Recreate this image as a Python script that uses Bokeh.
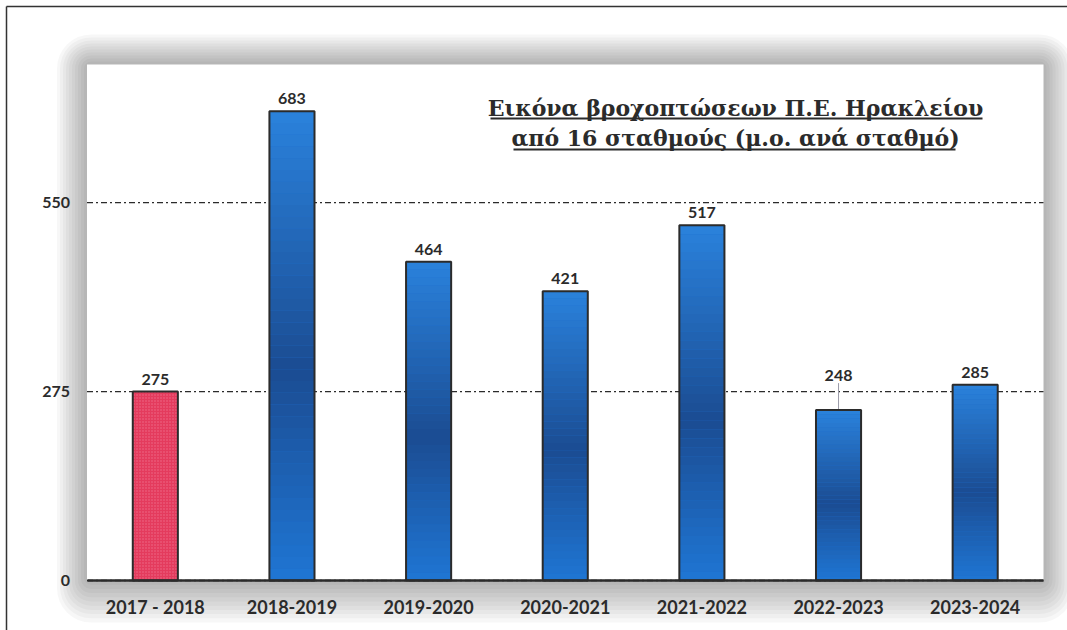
from bokeh.plotting import figure
from bokeh.models import FixedTicker, BoxAnnotation, Label
from bokeh.embed import file_html
from bokeh.resources import INLINE
from bokeh.core.properties import value

# ---------------- data ----------------
seasons = ["2017 - 2018", "2018-2019", "2019-2020", "2020-2021",
           "2021-2022", "2022-2023", "2023-2024"]
rainfall = [275, 683, 464, 421, 517, 248, 285]
y_ticks = [0, 275, 550]
title_lines = ["Εικόνα βροχοπτώσεων Π.Ε. Ηρακλείου",
               "από 16 σταθμούς (μ.ο. ανά σταθμό)"]

# ---------------- layout constants (canvas pixels) ----------------
W, H = 1067, 630
PL, PR, PT, PB = 86.5, 1043.0, 64.0, 580.0   # visible plot area
Y_TOP = 751.0                                 # data value at top of plot area
BAR_W = 0.33
TEXT = "#2b2b2b"
FONT = "Lato"
LABEL_GAP = 7          # px between bar top and its value label
LIFTED_LABEL = 5       # index of the label moved up (with a leader line)
LIFT_PX = 22

n = len(seasons)
cw = (PR - PL) / n            # px per category
s = (PB - PT) / Y_TOP          # px per data unit


def xd(px):                    # canvas x -> data x
    return -0.5 + (px - PL) / cw


def yd(py):                    # canvas y -> data y
    return (PB - py) / s


p = figure(width=W, height=H,
           x_range=(xd(0), xd(W)), y_range=(yd(H), yd(0)),
           output_backend="svg", toolbar_location=None,
           min_border=0, min_border_left=0, min_border_right=0,
           min_border_top=0, min_border_bottom=0)
p.border_fill_color = "white"
p.background_fill_color = "white"
p.outline_line_color = None
p.xgrid.visible = False
p.ygrid.visible = False

# soft drop shadow around the plot area
for i in range(10):
    e = 3 * (i + 1)
    p.add_layout(BoxAnnotation(left=xd(PL - e), right=xd(PR + e),
                               top=yd(PT - e), bottom=yd(PB + 1.4 * e),
                               fill_color="black", fill_alpha=0.03,
                               line_color=None, border_radius=int(e + 4),
                               level="image"))
p.add_layout(BoxAnnotation(left=-0.5, right=n - 0.5, bottom=0, top=Y_TOP,
                           fill_color="white", fill_alpha=1.0,
                           line_color=None, level="image"))

# outer frame line of the scanned page (left and top edges)
BX, BY = 6.0, 6.0
p.segment(x0=[xd(BX), xd(BX)], x1=[xd(BX), xd(W + 5)],
          y0=[yd(BY), yd(BY)], y1=[yd(H + 5), yd(BY)],
          line_color="#333333", line_width=1.5)

# dash-dot gridlines across the plot area
p.segment(x0=[-0.5] * len(y_ticks), x1=[n - 0.5] * len(y_ticks),
          y0=y_ticks, y1=y_ticks, line_color=TEXT, line_width=1.3,
          line_dash="6 3 2 3")

# axes placed inside the canvas
p.yaxis.fixed_location = -0.5
p.yaxis.ticker = FixedTicker(ticks=y_ticks)
p.yaxis.axis_line_color = None
p.yaxis.major_tick_line_color = None
p.yaxis.minor_tick_line_color = None
p.yaxis.major_label_standoff = 11
p.yaxis.major_label_text_font = FONT
p.yaxis.major_label_text_font_style = "bold"
p.yaxis.major_label_text_font_size = "16px"
p.yaxis.major_label_text_color = TEXT

p.xaxis.fixed_location = 0
p.xaxis.bounds = (-0.5, n - 0.5)
p.xaxis.ticker = FixedTicker(ticks=list(range(n)))
p.xaxis.major_label_overrides = {i: lab for i, lab in enumerate(seasons)}
p.xaxis.axis_line_color = TEXT
p.xaxis.axis_line_width = 2.5
p.xaxis.major_tick_line_color = None
p.xaxis.minor_tick_line_color = None
p.xaxis.major_label_standoff = 9
p.xaxis.major_label_text_font = FONT
p.xaxis.major_label_text_font_style = "bold"
p.xaxis.major_label_text_font_size = "18px"
p.xaxis.major_label_text_color = TEXT

xs = list(range(n))

# leader line for the lifted value label
p.segment(x0=[xs[LIFTED_LABEL]], x1=[xs[LIFTED_LABEL]],
          y0=[rainfall[LIFTED_LABEL]],
          y1=[rainfall[LIFTED_LABEL] + (LIFT_PX + LABEL_GAP - 2) / s],
          line_color="#9a9aa8", line_width=1)

# first season (red, dotted)
p.vbar(x=xs[:1], top=rainfall[:1], width=BAR_W,
       fill_color="#e43b5d", line_color=TEXT, line_width=2,
       hatch_pattern="dot", hatch_color="#f58ca4", hatch_alpha=0.6, hatch_scale=3)

# remaining seasons (blue with vertical gradient light-dark-light)
blue_x = xs[1:]
blue_v = rainfall[1:]
p.vbar(x=blue_x, top=blue_v, width=BAR_W, fill_color="#1f6fcc", line_color=None)

stops = [(0.0, (31, 118, 212)), (0.45, (27, 76, 146)), (1.0, (42, 130, 220))]


def grad(t):
    for (t0, c0), (t1, c1) in zip(stops[:-1], stops[1:]):
        if t0 <= t <= t1:
            f = (t - t0) / (t1 - t0)
            c = [round(a + (b - a) * f) for a, b in zip(c0, c1)]
            return "#%02x%02x%02x" % tuple(c)
    return "#%02x%02x%02x" % stops[-1][1]


N = 40
sx, sb, st, sc = [], [], [], []
for xv, v in zip(blue_x, blue_v):
    for k in range(N):
        sx.append(xv)
        sb.append(v * k / N)
        st.append(v * (k + 1) / N)
        sc.append(grad((k + 0.5) / N))
p.vbar(x=sx, bottom=sb, top=st, width=BAR_W, fill_color=sc, line_color=None)
p.vbar(x=blue_x, top=blue_v, width=BAR_W, fill_color=None, line_color=TEXT, line_width=2)

# value labels
offsets = [-(LABEL_GAP + (LIFT_PX if i == LIFTED_LABEL else 0)) for i in range(n)]
p.text(x=xs, y=rainfall, text=[str(v) for v in rainfall],
       text_font=value(FONT), text_font_style="bold", text_font_size="16px",
       text_color=TEXT, text_align="center", text_baseline="bottom", y_offset=offsets)

# title inside the plot area (underlined)
TITLE_CX = 735.0
title_base = [107.0, 137.0]
under_py = [118.0, 149.0]
under_px = [(490.0, 982.0), (513.0, 955.0)]
for line, by in zip(title_lines, title_base):
    p.add_layout(Label(x=xd(TITLE_CX), y=yd(by), text=line, text_align="center",
                       text_baseline="alphabetic",
                       text_font="DejaVu Serif", text_font_style="bold",
                       text_font_size="22px", text_color=TEXT))
p.segment(x0=[xd(a) for a, b in under_px], x1=[xd(b) for a, b in under_px],
          y0=[yd(v) for v in under_py], y1=[yd(v) for v in under_py],
          line_color=TEXT, line_width=2)

open("out.html", "w").write(file_html(p, INLINE))
